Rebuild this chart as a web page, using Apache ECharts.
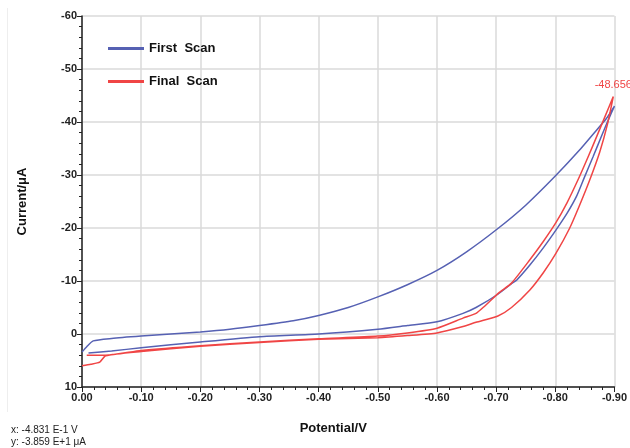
<!DOCTYPE html>
<html>
<head>
<meta charset="utf-8">
<script src="https://cdn.jsdelivr.net/npm/echarts@6/dist/echarts.min.js"></script>
<style>
  html, body { margin: 0; padding: 0; background: #fff; }
  #chart { width: 630px; height: 448px; }
</style>
</head>
<body>
<div id="chart"></div>
<script>
// First scan: out to -0.9 V, then back
var firstScanV = [0, -0.008, -0.019, -0.05, -0.1, -0.2, -0.25, -0.3, -0.357, -0.4, -0.45, -0.5, -0.55, -0.6, -0.65, -0.703, -0.75, -0.8, -0.841, -0.87, -0.886, -0.9,
  -0.89, -0.878, -0.864, -0.849, -0.836, -0.82, -0.801, -0.78, -0.757, -0.735, -0.726, -0.703, -0.666, -0.644, -0.6, -0.55, -0.5, -0.4, -0.3, -0.2, -0.1, -0.05, -0.011];
var firstScanI = [3.4, 2.4, 1.3, 0.85, 0.4, -0.4, -0.9, -1.6, -2.5, -3.5, -5.0, -7.0, -9.3, -12.0, -15.5, -19.9, -24.3, -29.8, -34.7, -38.5, -40.6, -43.0,
  -40.5, -37.3, -33.5, -29.5, -26.0, -22.8, -19.6, -16.3, -13.0, -10.2, -9.5, -7.5, -5.0, -3.9, -2.3, -1.6, -0.9, 0.0, 0.5, 1.5, 2.6, 3.2, 3.6];

// Final scan
var finalScanV = [0, -0.015, -0.03, -0.04, -0.1, -0.2, -0.3, -0.4, -0.5, -0.55, -0.6, -0.644, -0.666, -0.703, -0.726, -0.757, -0.78, -0.801, -0.824, -0.84, -0.858, -0.875, -0.888, -0.898,
  -0.885, -0.872, -0.855, -0.838, -0.82, -0.801, -0.78, -0.757, -0.726, -0.705, -0.68, -0.666, -0.644, -0.6, -0.55, -0.5, -0.4, -0.3, -0.2, -0.1, -0.04, -0.008];
var finalScanI = [6.0, 5.7, 5.3, 4.1, 3.3, 2.3, 1.6, 1.0, 0.7, 0.3, -0.2, -1.4, -2.2, -3.4, -5.0, -8.3, -11.6, -15.2, -19.9, -24.0, -29.0, -34.3, -39.5, -44.8,
  -41.3, -37.8, -33.3, -29.0, -24.8, -21.0, -17.5, -14.0, -9.6, -7.8, -5.2, -3.9, -3.0, -1.1, -0.2, 0.4, 0.9, 1.5, 2.2, 3.1, 4.0, 4.0];

var vertexIndex = 23; // final scan turning point, labelled
var vertexLabel = "-48.656";
var readoutX = "x: -4.831 E-1 V";
var readoutY = "y: -3.859 E+1 \u03bcA";

var blue = "#5661b3";
var red = "#f04545";
var font = "Liberation Sans, Arial, sans-serif";

function pairs(xs, ys) {
  return xs.map(function (x, i) { return [x, ys[i]]; });
}

var chart = echarts.init(document.getElementById("chart"));
var axisText = { color: "#222", fontSize: 11, fontWeight: "bold", fontFamily: font };
var legendText = { fontSize: 13, fontWeight: "bold", color: "#111", fontFamily: font };

var option = {
  animation: false,
  grid: { left: 82, right: 15, top: 16, bottom: 61 },
  legend: [
    {
      data: ["First Scan"], left: 103, top: 37, icon: "rect", itemWidth: 36, itemHeight: 3,
      formatter: function (n) { return n.replace(" ", "  "); },
      textStyle: legendText,
    },
    {
      data: ["Final Scan"], left: 103, top: 70, icon: "rect", itemWidth: 36, itemHeight: 3,
      formatter: function (n) { return n.replace(" ", "  "); },
      textStyle: legendText,
    },
  ],
  xAxis: {
    type: "value",
    min: -0.9,
    max: 0,
    interval: 0.1,
    inverse: true,
    name: "Potential/V",
    nameLocation: "middle",
    nameGap: 35,
    nameTextStyle: Object.assign({ padding: [0, 30, 0, 0] }, legendText),
    axisLine: { onZero: false, lineStyle: { color: "#222", width: 1.5 } },
    axisTick: { length: 5, lineStyle: { color: "#222" } },
    minorTick: { show: true, splitNumber: 5, length: 3, lineStyle: { color: "#222" } },
    splitLine: { show: true, lineStyle: { color: "#dadada", width: 1.5 } },
    axisLabel: Object.assign({ margin: 5, formatter: function (v) { return Math.abs(v) < 1e-9 ? "0.00" : v.toFixed(2); } }, axisText),
  },
  yAxis: {
    type: "value",
    min: -60,
    max: 10,
    interval: 10,
    inverse: true,
    name: "Current/\u03bcA",
    nameLocation: "middle",
    nameGap: 53,
    nameTextStyle: legendText,
    axisLine: { show: true, onZero: false, lineStyle: { color: "#222", width: 1.5 } },
    axisTick: { show: true, length: 5, lineStyle: { color: "#222" } },
    minorTick: { show: true, splitNumber: 5, length: 3, lineStyle: { color: "#222" } },
    splitLine: { show: true, lineStyle: { color: "#dadada", width: 1.5 } },
    axisLabel: Object.assign({ margin: 5 }, axisText),
  },
  graphic: [
    { type: "line", shape: { x1: 7.5, y1: 8, x2: 7.5, y2: 412 }, style: { stroke: "#eeeeee", lineWidth: 1 } },
    { type: "text", left: 11, top: 425, style: { text: readoutX, fontSize: 10, fill: "#222", fontFamily: font } },
    { type: "text", left: 11, top: 437, style: { text: readoutY, fontSize: 10, fill: "#222", fontFamily: font } },
  ],
  series: [
    {
      name: "First Scan",
      type: "line",
      data: pairs(firstScanV, firstScanI),
      showSymbol: false,
      symbol: "none",
      smooth: 0.2,
      color: blue,
      lineStyle: { color: blue, width: 1.5 },
    },
    {
      name: "Final Scan",
      type: "line",
      data: pairs(finalScanV, finalScanI),
      showSymbol: false,
      symbol: "none",
      smooth: 0.2,
      color: red,
      lineStyle: { color: red, width: 1.5 },
      markPoint: {
        symbol: "circle",
        symbolSize: 1,
        itemStyle: { color: "rgba(0,0,0,0)" },
        label: {
          show: true,
          position: "top",
          distance: 6,
          formatter: vertexLabel,
          color: red,
          fontSize: 11,
          fontFamily: font,
        },
        data: [{ coord: [finalScanV[vertexIndex], finalScanI[vertexIndex]] }],
      },
    },
  ],
};
chart.setOption(option);
</script>
</body>
</html>
